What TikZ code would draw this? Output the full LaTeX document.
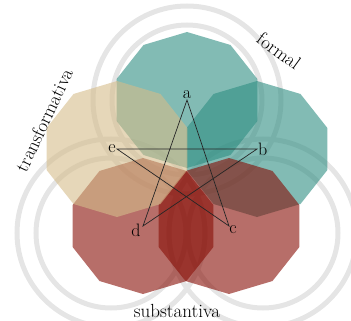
\documentclass[tikz,border=0pt]{standalone}
\begin{document}
\begin{tikzpicture}[x=1pt,y=-1pt]
\definecolor{teal1}{RGB}{47,142,130}
\definecolor{red1}{RGB}{135,13,5}
\definecolor{tan1}{RGB}{213,188,138}
\tikzset{ring/.style={draw=black!10,line width=5pt},
  lbl/.style={font=\fontsize{18}{20}\selectfont,inner sep=1pt},
  big/.style={font=\fontsize{19}{22}\selectfont,inner sep=0pt},
  star/.style={draw=black!85,line width=0.7pt}}
\useasboundingbox (0,0) rectangle (351,321);
\newcommand\decagon[2]{\fill[#2,fill opacity=0.6,shift={(#1)}] (90:74 and 68)
  \foreach \k in {1,...,9}{ -- ({90+36*\k}:74 and 68)} -- cycle;}
% rings
\coordinate (rt) at (187,100);
\coordinate (rl) at (111,233);
\coordinate (rr) at (263,233);
\foreach \c in {rt,rl,rr}{
  \draw[ring] (\c) circle (94);
  \draw[ring] (\c) circle (75);
}
% centres
\coordinate (a) at (187,100);
\coordinate (b) at (257,149);
\coordinate (c) at (229,226);
\coordinate (d) at (143,226);
\coordinate (e) at (117,149);
\decagon{a}{teal1}
\decagon{b}{teal1}
\decagon{c}{red1}
\decagon{d}{red1}
\decagon{e}{tan1}
\draw[star] (a) -- (c) -- (e) -- (b) -- (d) -- cycle;
\node[lbl,above] (la) at (a) {a};
\node[lbl,right] (lb) at (b) {b};
\node[lbl] (lc) at (233,230) {c};
\node[lbl] (ld) at (136,230) {d};
\node[lbl,left] (le) at (e) {e};
\node[big,rotate=65] (tt) at (44,120) {transformativa};
\node[big,rotate=-36] (tf) at (279,51) {formal};
\node[big] (ts) at (177,311) {substantiva};
\end{tikzpicture}
\end{document}
